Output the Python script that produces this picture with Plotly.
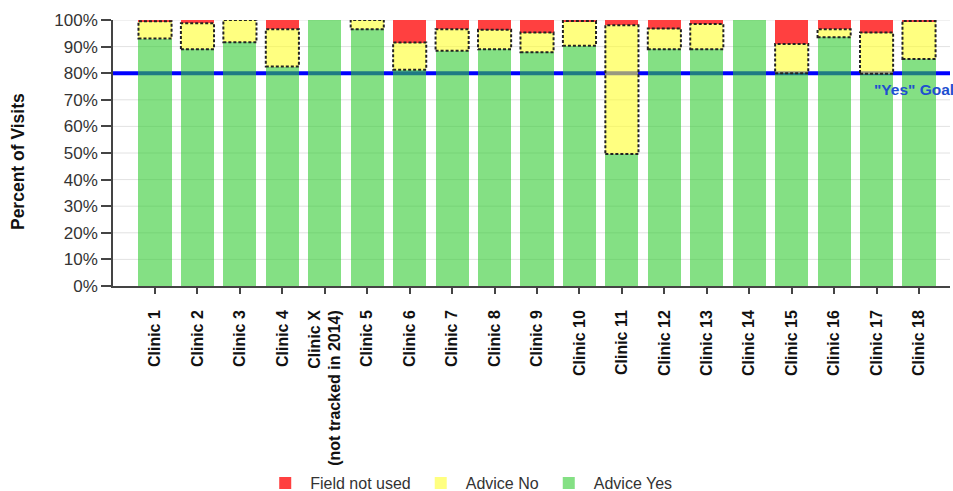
import plotly.graph_objects as go

clinics = ["Clinic 1", "Clinic 2", "Clinic 3", "Clinic 4", "Clinic X<br>(not tracked in 2014)",
           "Clinic 5", "Clinic 6", "Clinic 7", "Clinic 8", "Clinic 9", "Clinic 10", "Clinic 11",
           "Clinic 12", "Clinic 13", "Clinic 14", "Clinic 15", "Clinic 16", "Clinic 17", "Clinic 18"]
advice_yes = [93, 89, 91.6, 82.5, 100, 96.5, 81.3, 88.4, 89, 87.9, 90.3, 49.6, 89, 89, 100, 80, 93.5, 79.8, 85.3]
advice_no = [6.5, 9.8, 8.4, 14, 0, 3.5, 10.2, 8.1, 7.3, 7.4, 9.3, 48.4, 7.8, 9.5, 0, 11, 3, 15.5, 14.3]
field_not_used = [0.5, 1.2, 0, 3.5, 0, 0, 8.5, 3.5, 3.7, 4.7, 0.4, 2, 3.2, 1.5, 0, 9, 3.5, 4.7, 0.4]
goal = 80
y_ticks = list(range(0, 101, 10))
y_tick_labels = [f"{v}%" for v in y_ticks]

FONT = "Liberation Sans, Arial, sans-serif"
BAR_W = 0.78

fig = go.Figure()
fig.add_trace(go.Bar(x=clinics, y=advice_yes, name="Advice Yes", width=BAR_W,
                     marker=dict(color="rgba(50,203,50,0.6)", line=dict(width=0))))
fig.add_trace(go.Bar(x=clinics, y=advice_no, name="Advice No", width=BAR_W,
                     marker=dict(color="rgba(255,255,43,0.6)", line=dict(width=0))))
fig.add_trace(go.Bar(x=clinics, y=field_not_used, name="Field not used", width=BAR_W,
                     marker=dict(color="#ff4040", line=dict(width=0))))

shapes = []
# horizontal gridlines (behind everything)
for v in y_ticks:
    if v not in (0, goal):
        shapes.append(dict(type="line", xref="paper", x0=0, x1=1, yref="y", y0=v, y1=v,
                           line=dict(color="#e2e2e2", width=1), layer="below"))
# goal line (drawn behind the translucent bars)
shapes.append(dict(type="line", xref="paper", x0=0, x1=1, yref="y", y0=goal, y1=goal,
                   line=dict(color="#0000ff", width=4), layer="below"))
# dashed outlines of the "Advice No" segments
for i, (y0, h) in enumerate(zip(advice_yes, advice_no)):
    if h > 0:
        shapes.append(dict(type="rect", xref="x", yref="y",
                           x0=i - BAR_W / 2, x1=i + BAR_W / 2, y0=y0, y1=y0 + h,
                           line=dict(color="#222222", width=2, dash="3px,2px"),
                           fillcolor="rgba(0,0,0,0)", layer="above"))

fig.update_layout(
    barmode="stack",
    width=953, height=491,
    margin=dict(l=113, r=3, t=20, b=205),
    paper_bgcolor="white", plot_bgcolor="white",
    font=dict(family=FONT, color="#333333"),
    bargap=0.2,
    shapes=shapes,
    legend=dict(orientation="h", traceorder="reversed", x=0.425, xanchor="center",
                yref="container", y=0.016, yanchor="middle",
                font=dict(size=16, color="#333333"), itemwidth=40),
    showlegend=True,
    annotations=[
        dict(text="<b>Percent of Visits</b>", textangle=-90, xref="paper", yref="paper",
             x=-0.1135, y=0.466, xanchor="center", yanchor="middle", showarrow=False,
             font=dict(size=17.5, color="#111111", family=FONT)),
        dict(text="<b>\"Yes\" Goal</b>", xref="paper", yref="y", x=1, y=goal,
             xanchor="right", yanchor="top", xshift=6, yshift=-6, showarrow=False,
             font=dict(size=15.5, color="#1f4fd0", family=FONT)),
    ],
)
fig.update_xaxes(type="category", range=[-0.99, 18.73], showgrid=False,
                 showline=True, linecolor="#444444", linewidth=1.5,
                 ticks="outside", ticklen=6, tickcolor="#444444", tickwidth=1.5,
                 tickangle=-90, tickfont=dict(size=16, color="#111111", family=FONT, weight="bold"),
                 ticklabelstandoff=10, automargin=False)
fig.update_yaxes(range=[0, 100], tickvals=y_ticks, ticktext=y_tick_labels,
                 showgrid=False,
                 showline=True, linecolor="#444444", linewidth=1.5,
                 ticks="outside", ticklen=10, tickcolor="#444444", tickwidth=1.5,
                 tickfont=dict(size=17, color="#333333", family=FONT),
                 zeroline=False, automargin=False)

fig.write_html("out.html")
